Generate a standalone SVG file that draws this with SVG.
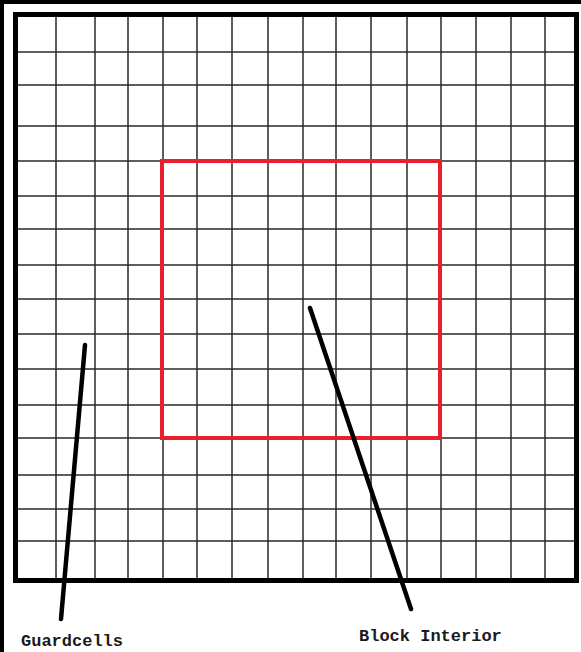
<svg xmlns="http://www.w3.org/2000/svg" width="581" height="652" viewBox="0 0 581 652">
<style>
.g{stroke:#2a2a2a;stroke-width:1.5;fill:none}
.frame{stroke:#000;stroke-width:5;fill:none}
.red{stroke:#e8202e;stroke-width:4;fill:none}
.ptr{stroke:#000;stroke-width:4.5;stroke-linecap:round;fill:none}
.lbl{font-family:"Liberation Mono","DejaVu Sans Mono",monospace;font-weight:bold;font-size:17px;fill:#1a1a1a}
</style>
<rect x="0" y="0" width="581" height="652" fill="#fff"/>
<rect x="0" y="0" width="581" height="4" fill="#000"/>
<rect x="0" y="0" width="4" height="652" fill="#000"/>
<g id="grid">
<path class="g" d="M56 15V581M95 15V581M128 15V581M163 15V581M197 15V581M232 15V581M268 15V581M303 15V581M336 15V581M371 15V581M407 15V581M441 15V581M476 15V581M511 15V581M545 15V581"/>
<path class="g" d="M16 52H577M16 85H577M16 126H577M16 161H577M16 196H577M16 229H577M16 265H577M16 299H577M16 334H577M16 369H577M16 405H577M16 438H577M16 475H577M16 509H577M16 541H577"/>
</g>
<g id="frame"><rect class="frame" x="15.5" y="14.5" width="561" height="566"/></g>
<g id="block-interior"><rect class="red" x="162" y="161" width="278" height="277"/></g>
<g id="connectors">
<path class="ptr" d="M85 345L61 619"/>
<path class="ptr" d="M310 308L411 609"/>
</g>
<g id="label-guardcells"><text class="lbl" x="21" y="646">Guardcells</text></g>
<g id="label-block-interior"><text class="lbl" x="359" y="641">Block Interior</text></g>
</svg>
